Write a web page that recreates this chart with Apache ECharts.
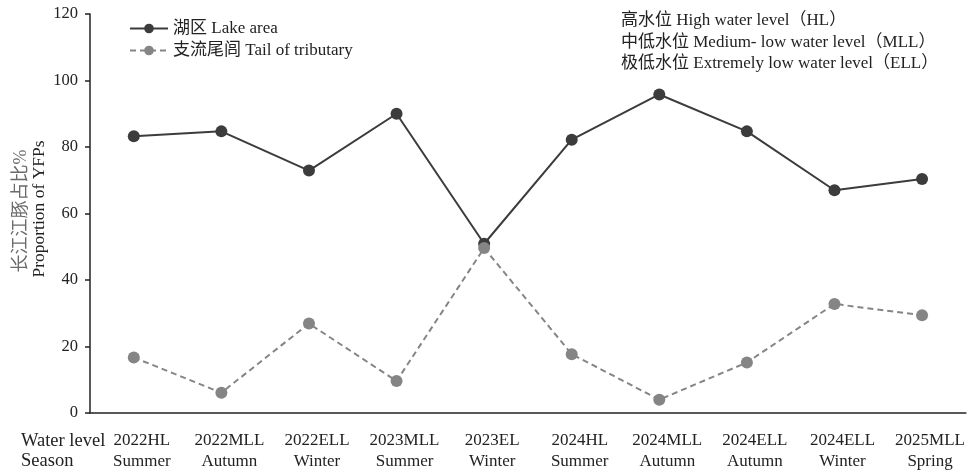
<!DOCTYPE html>
<html>
<head>
<meta charset="utf-8">
<script src="https://cdn.jsdelivr.net/npm/echarts@6/dist/echarts.min.js"></script>
<style>
  html, body { margin: 0; padding: 0; background: #fff; }
  #chart { width: 968px; height: 474px; }
</style>
</head>
<body>
<div id="chart"></div>
<script>
// Sampling periods: water level stage and season
const waterLevels = ['2022HL', '2022MLL', '2022ELL', '2023MLL', '2023EL', '2024HL', '2024MLL', '2024ELL', '2024ELL', '2025MLL'];
const seasons = ['Summer', 'Autumn', 'Winter', 'Summer', 'Winter', 'Summer', 'Autumn', 'Autumn', 'Winter', 'Spring'];

// Share of Yangtze finless porpoises (%) by habitat
const lakeArea = [83.2, 84.7, 72.9, 90.0, 50.9, 82.2, 95.8, 84.7, 67.0, 70.4];
const tributaryTail = [16.7, 6.1, 26.9, 9.6, 49.6, 17.7, 4.0, 15.2, 32.8, 29.4];

const yTicks = { min: 0, max: 120, interval: 20 };

const seriesNames = ['湖区 Lake area', '支流尾闾 Tail of tributary'];
const stageNotes = [
  '高水位 High water level（HL）',
  '中低水位 Medium- low water level（MLL）',
  '极低水位 Extremely low water level（ELL）'
];

const serif = '"Liberation Serif", "Times New Roman", "Noto Sans CJK SC", serif';
const ink = '#222';

const chart = echarts.init(document.getElementById('chart'), null, { renderer: 'canvas' });

chart.setOption({
  backgroundColor: '#fff',
  animation: false,
  textStyle: { fontFamily: serif, color: ink },
  grid: { left: 90, right: 2, top: 14, bottom: 61, containLabel: false },
  legend: {
    orient: 'vertical',
    left: 124,
    top: 15,
    itemWidth: 38,
    itemHeight: 12,
    itemGap: 5,
    textStyle: { fontFamily: serif, fontSize: 17, color: ink },
    data: seriesNames
  },
  xAxis: {
    type: 'category',
    data: waterLevels,
    boundaryGap: true,
    axisLine: { lineStyle: { color: ink, width: 1.5 } },
    axisTick: { alignWithLabel: true, length: 6, lineStyle: { color: ink, width: 1.5 } },
    axisLabel: {
      interval: 0,
      margin: 17,
      fontFamily: serif,
      fontSize: 17,
      lineHeight: 21,
      color: ink,
      padding: [0, 0, 0, 16],
      formatter: (v, i) => waterLevels[i] + '\n' + seasons[i]
    }
  },
  yAxis: {
    type: 'value',
    min: yTicks.min,
    max: yTicks.max,
    interval: yTicks.interval,
    splitLine: { show: false },
    axisLine: { show: true, lineStyle: { color: ink, width: 1.5 } },
    axisTick: { show: true, length: 5, lineStyle: { color: ink, width: 1.5 } },
    axisLabel: { margin: 12, fontFamily: serif, fontSize: 16.5, color: ink }
  },
  series: [
    {
      name: seriesNames[0],
      type: 'line',
      data: lakeArea,
      symbol: 'circle',
      symbolSize: 12,
      itemStyle: { color: '#3c3c3c' },
      lineStyle: { color: '#3c3c3c', width: 2 }
    },
    {
      name: seriesNames[1],
      type: 'line',
      data: tributaryTail,
      symbol: 'circle',
      symbolSize: 12,
      itemStyle: { color: '#858585' },
      lineStyle: { color: '#858585', width: 2, type: [6, 4] }
    }
  ],
  graphic: [
    {
      type: 'text',
      left: 621,
      top: 10,
      style: {
        text: stageNotes.join('\n'),
        font: '17px ' + serif,
        lineHeight: 21.5,
        fill: ink
      }
    },
    {
      type: 'text',
      x: 21,
      y: 211,
      rotation: Math.PI / 2,
      style: {
        text: '长江江豚占比%',
        font: '18px ' + serif,
        fill: '#6a6a6a',
        align: 'center',
        verticalAlign: 'middle'
      }
    },
    {
      type: 'text',
      x: 39,
      y: 209,
      rotation: Math.PI / 2,
      style: {
        text: 'Proportion of YFPs',
        font: '17.5px ' + serif,
        fill: ink,
        align: 'center',
        verticalAlign: 'middle'
      }
    },
    {
      type: 'text',
      left: 21,
      top: 431,
      style: {
        text: 'Water level\nSeason',
        font: '18.5px ' + serif,
        lineHeight: 20,
        fill: ink
      }
    }
  ]
});
</script>
</body>
</html>
